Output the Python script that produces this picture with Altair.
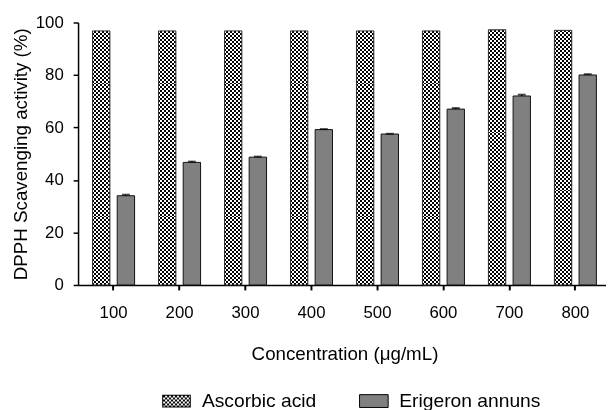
import altair as alt
import pandas as pd

# ---------------- data ----------------
concentrations = ["100", "200", "300", "400", "500", "600", "700", "800"]
series_names = ["Ascorbic acid", "Erigeron annuns"]
ascorbic_values = [96.8, 96.8, 96.8, 96.8, 96.8, 96.8, 97.2, 97.0]
ascorbic_errors = [0, 0, 0, 0, 0, 0, 0, 0]
erigeron_values = [34.0, 46.7, 48.7, 59.2, 57.5, 67.0, 72.0, 80.0]
erigeron_errors = [0.4, 0.3, 0.2, 0.2, 0.1, 0.4, 0.5, 0.3]
y_ticks = [0, 20, 40, 60, 80, 100]

rows = []
for i, c in enumerate(concentrations):
    rows.append({"conc": c, "series": series_names[0], "value": ascorbic_values[i],
                 "top": ascorbic_values[i] + ascorbic_errors[i]})
    rows.append({"conc": c, "series": series_names[1], "value": erigeron_values[i],
                 "top": erigeron_values[i] + erigeron_errors[i]})
df = pd.DataFrame(rows)

FONT = "Liberation Sans"


# ---------------- styling helpers ----------------
def stripes(n, first, second):
    stops = []
    for i in range(n):
        col = first if i % 2 == 0 else second
        stops.append({"offset": i / n, "color": col})
        stops.append({"offset": (i + 1) / n, "color": col})
    return stops


h_grad = {"gradient": "linear", "x1": 0, "y1": 0, "x2": 0, "y2": 1,
          "stops": stripes(128, "black", "white")}
v_grad = {"gradient": "linear", "x1": 0, "y1": 0, "x2": 1, "y2": 0,
          "stops": stripes(9, "white", "black")}


def fmt(v):
    return f"{v:.3f}".rstrip("0").rstrip(".")


# legend swatch paths (unit box -1..1)
hh = 0.448
fr = 0.069
outer = f"M-1,{fmt(-hh)}L1,{fmt(-hh)}L1,{fmt(hh)}L-1,{fmt(hh)}Z"
ix, iy = 1 - fr, hh - fr
inner = f"M{fmt(-ix)},{fmt(-iy)}L{fmt(-ix)},{fmt(iy)}L{fmt(ix)},{fmt(iy)}L{fmt(ix)},{fmt(-iy)}Z"
cell = 2 / 14.5
cells = []
r = 0
y0 = -iy
while y0 < iy - 1e-6:
    y1 = min(y0 + cell, iy)
    c = 0
    x0 = -ix
    while x0 < ix - 1e-6:
        x1 = min(x0 + cell, ix)
        if (r + c) % 2 == 0:
            cells.append(f"M{fmt(x0)},{fmt(y0)}L{fmt(x1)},{fmt(y0)}L{fmt(x1)},{fmt(y1)}L{fmt(x0)},{fmt(y1)}Z")
        x0 = x1
        c += 1
    y0 = y1
    r += 1
path_checker = outer + inner + "".join(cells)
path_rect = outer

shape_expr = f"datum.value === 'Ascorbic acid' ? '{path_checker}' : '{path_rect}'"
sw_expr = "datum.value === 'Ascorbic acid' ? 0 : 1"

# ---------------- encodings ----------------
x_axis = alt.Axis(title="Concentration (μg/mL)", labelAngle=0, labelFont=FONT, labelFontSize=17,
                  labelColor="black", labelBaseline="alphabetic", labelPadding=28,
                  tickSize=5, tickWidth=2, tickColor="black", domainColor="black", domainWidth=1.5,
                  titleFont=FONT, titleFontSize=19, titleFontWeight="normal", titleColor="black",
                  titleX=270, titleY=76, titleBaseline="alphabetic", titleAlign="center")
y_axis = alt.Axis(title="DPPH Scavenging activity (%)", values=y_ticks, labelFont=FONT, labelFontSize=17,
                  labelColor="black", labelPadding=10, tickSize=5, tickWidth=1.5, tickColor="black",
                  domainColor="black", domainWidth=1.5,
                  titleFont=FONT, titleFontSize=19, titleFontWeight="normal", titleColor="black",
                  titleAngle=270, titleX=-52, titleY=133, titleBaseline="alphabetic", titleAlign="center")

x_scale = alt.Scale(domain=concentrations, paddingInner=0.363, paddingOuter=0.1824, align=0.602, round=False)
xo_scale = alt.Scale(domain=series_names, paddingInner=0.296, paddingOuter=0)
y_scale = alt.Scale(domain=[0, 100], nice=False)

x_enc = alt.X("conc:N", sort=concentrations, scale=x_scale, axis=x_axis)
xo_enc = alt.XOffset("series:N", scale=xo_scale)
y_enc = alt.Y("value:Q", scale=y_scale, axis=y_axis)

base = alt.Chart(df)
asc = base.transform_filter(alt.datum.series == "Ascorbic acid")
eri = base.transform_filter(alt.datum.series == "Erigeron annuns")

layer_h = asc.mark_bar(fill=h_grad, strokeWidth=0).encode(x=x_enc, xOffset=xo_enc, y=y_enc)
layer_v = asc.mark_bar(fill=v_grad, strokeWidth=0, blend="difference").encode(x=x_enc, xOffset=xo_enc, y=y_enc)
layer_asc_outline = asc.mark_bar(fill="transparent", stroke="#333333", strokeWidth=1).encode(
    x=x_enc, xOffset=xo_enc, y=y_enc)
layer_eri = eri.mark_bar(fill="#808080", stroke="#111111", strokeWidth=1).encode(
    x=x_enc, xOffset=xo_enc, y=y_enc)

legend = alt.Legend(title=None, orient="none", legendX=90, legendY=373.5, direction="horizontal",
                    symbolSize=841, labelFont=FONT, labelFontSize=19.5, labelColor="black",
                    labelOffset=16, columnPadding=41, padding=0,
                    symbolType={"expr": shape_expr},
                    symbolStrokeColor="black",
                    symbolStrokeWidth={"expr": sw_expr},
                    symbolOpacity=1)

# invisible layer (no rows) that only carries the legend
layer_legend = base.transform_filter("false").mark_bar().encode(
    x=x_enc, xOffset=xo_enc, y=y_enc,
    fill=alt.Fill("series:N", scale=alt.Scale(domain=series_names, range=["black", "#808080"]),
                  legend=legend),
)

err_rule = eri.mark_rule(color="black", strokeWidth=1.5).encode(
    x=x_enc, xOffset=xo_enc, y=y_enc, y2="top:Q")
err_cap = eri.mark_tick(color="black", size=8, thickness=2).encode(
    x=x_enc, xOffset=xo_enc, y=alt.Y("top:Q", scale=y_scale, axis=y_axis))

chart = alt.layer(layer_h, layer_v, layer_asc_outline, layer_eri, layer_legend, err_rule, err_cap).properties(
    width=535, height=266,
    padding={"left": 71, "top": 12, "right": 0, "bottom": 124},
    autosize=alt.AutoSizeParams(type="none"),
).configure_view(stroke=None).configure_axis(grid=False)

chart.save("out.html", embed_options={"renderer": "svg", "actions": False})
